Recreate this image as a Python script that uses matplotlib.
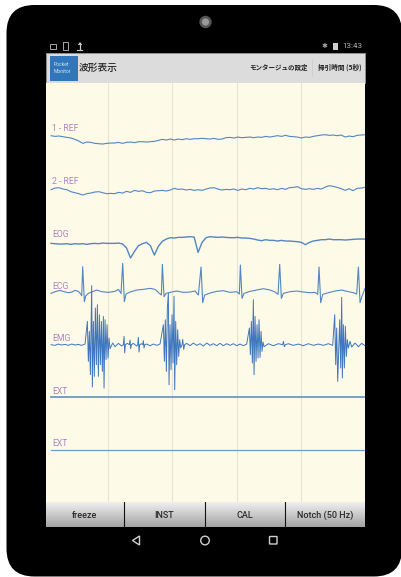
import numpy as np
import matplotlib
matplotlib.use("Agg")
import matplotlib.pyplot as plt
from matplotlib.patches import FancyBboxPatch, Rectangle, Circle, Polygon

plt.rcParams['font.family'] = ['Noto Sans CJK JP', 'DejaVu Sans']

W, H = 402, 577

channels = ["1 - REF", "2 - REF", "EOG", "ECG", "EMG", "EXT", "EXT"]
baselines = [1095, 939, 780, 630, 471, 315, 156]
label_levels = [1119, 961, 803, 646, 489, 332, 174]
grid_samples = [205, 397, 592, 784]
buttons = ["freeze", "INST", "CAL", "Notch (50 Hz)"]

ref1 = [3,1,2,0,-2,-4,-8,-13,-20,-16,-17,-20,-21,-22,-20,-19,-19,-17,-20,-17,-16,-18,-15,-15,-16,-15,-14,-11,-8,-10,
        -7,-10,-7,-9,-6,-8,-6,-6,-5,-6,-7,-5,-8,-7,-3,-2,-4,-1,-3,-2,-1,-3,-1,-2,1,-1,1,3,1,4,1,0,-1,-4,-1,-2,1,3,5,6,
        4,5,3,5,-1,2,0,4,5,6]
ref2 = [-3,2,3,-1,-3,-9,-12,-15,-19,-15,-13,-10,-9,-12,-15,-14,-15,-11,-13,-8,-11,-5,-8,-6,-11,-12,-7,-6,-5,-7,
        -4,1,-2,-1,-4,-2,-5,-3,-5,-1,2,3,-1,-4,-2,-3,-1,-5,-1,-3,1,-1,3,0,1,-2,0,-3,1,-2,3,4,6,0,-2,0,-2,1,-1,5,
        9,7,4,0,-5,0,-6,1,2,4]
eog = [-5,-6,-7,-7,-6,-8,-6,-7,-6,-8,-6,-5,-6,-4,-5,-5,-5,-4,-7,-19,-49,-29,-12,-6,-2,-12,-40,-14,1,8,
       12,11,13,13,14,15,14,-32,-2,12,15,14,13,14,13,12,12,13,11,11,10,8,5,3,6,4,4,2,4,2,2,1,0,-2,-9,-2,2,4,6,6,
       8,6,6,6,5,6,7,8,8,8]

ecg_t = [33,45,60,72,85,95,105,115,122,125,128,133,137,145,170,185,205,225,235,243,248,253,258,270,290,310,330,345,358,364,
         367,372,378,395,410,430,450,465,475,483,488,494,510,530,550,570,590,598,601,606,612,630,650,670,690,705,714,719,724,730,
         750,770,790,810,825,833,837,842,848,865,885,905,925,940,950,955,960,966,975]
ecg_v = [-5,0,4,0,-3,-1,4,1,-7,-12,75,-30,-13,-5,5,0,-2,1,7,-5,85,-30,-7,-1,5,7,10,7,-5,-10,
         82,-15,-5,-1,2,-2,-1,2,-10,74,-33,-10,-4,1,3,-2,0,-7,80,-20,-5,1,5,9,5,-1,-8,82,-20,-5,
         0,2,-1,-3,-2,-8,74,-33,-8,-3,2,5,0,-3,-7,74,-33,-13,10]

emg_t = [33,45,55,65,75,85,95,105,115,125,135,142,145,148,151,154,155,157,160,163,166,169,172,175,178,181,184,187,190,192,
         195,198,201,204,207,210,218,225,235,245,250,252,254,256,262,268,270,272,274,280,290,293,295,297,299,305,308,310,312,314,
         320,330,340,350,360,370,373,376,379,382,385,387,390,393,396,399,402,404,407,410,413,416,419,422,426,428,431,434,440,450,
         460,470,480,490,500,510,520,530,540,550,560,570,580,590,600,610,620,628,631,634,637,640,642,645,648,651,654,657,660,663,
         666,669,672,685,700,715,728,730,733,736,745,760,775,790,805,820,835,850,865,878,884,887,890,893,899,902,905,907,910,913,
         916,919,922,925,930,935,945,955,965,975]
emg_v = [0,-2,2,-1,1,-2,2,-1,1,-2,2,70,-50,40,-90,100,177,-127,70,-95,110,-60,120,-95,90,-60,70,-80,85,-130,
         75,-45,60,-40,20,-12,5,-6,4,-4,0,25,-25,0,4,0,14,-12,0,4,-4,0,22,-22,0,3,0,12,-10,0,
         2,-3,2,-2,2,60,-50,75,-80,110,155,-120,60,-75,90,-55,145,-135,70,-60,45,-35,15,-10,0,16,-14,0,4,-3,
         5,-2,3,-4,5,-2,3,-3,4,-3,3,-2,3,-3,2,-3,2,50,-30,70,-55,135,-90,85,-50,60,-40,75,-38,40,
         -20,8,-6,3,-3,3,0,10,-6,0,3,-2,2,-3,3,-2,2,-2,3,-2,90,-60,50,-110,75,-70,142,-100,60,-70,
         55,-35,15,-10,10,-7,5,-6,4,-3]

fig = plt.figure(figsize=(W / 100, H / 100), dpi=100, facecolor="white")

# device frame and UI chrome, in image pixels
bg = fig.add_axes([0, 0, 1, 1])
bg.set_xlim(0, W)
bg.set_ylim(H, 0)
bg.axis("off")
bg.add_patch(FancyBboxPatch((6.5 + 28, 5 + 28), W - 6.5 - 56, 571.5 - 56,
                            boxstyle="round,pad=28", fc="black", ec="none"))
bg.add_patch(Circle((205.5, 22), 6.2, fc="#555555", ec="none"))
bg.add_patch(Circle((205.5, 22), 3.6, fc="#9a9a9a", ec="none"))

# status bar
st = "#a8a8a8"
bg.add_patch(Rectangle((50.5, 43.5), 6, 5, fc="none", ec=st, lw=0.7))
bg.add_patch(Rectangle((63.5, 42), 5, 8, fc="none", ec=st, lw=0.7))
bg.plot([80, 80], [43, 49], color="#cccccc", lw=0.9)
bg.plot([77.5, 82.5], [50, 50], color="#cccccc", lw=0.8)
bg.add_patch(Polygon([[77.8, 45], [82.2, 45], [80, 42]], fc="#cccccc", ec="none"))
bg.text(325, 46, "✱", color=st, fontsize=5, ha="center", va="center", family="DejaVu Sans")
bg.add_patch(Rectangle((333, 43), 5, 7, fc="#cfcfcf", ec="none"))
bg.text(342.5, 46.3, "13:43", color="#b5b5b5", fontsize=5.8, ha="left", va="center", family="Roboto")

# action bar
bg.add_patch(Rectangle((45.7, 52.7), 319.5, 30, fc="#dcdcdc", ec="#9c9c9c", lw=0.5))
bg.add_patch(Rectangle((50.5, 56), 27.5, 25, fc="#2f76bb", ec="none"))
bg.text(53.5, 64.5, "Pocket", color="#d5e4f2", fontsize=3.6, va="center", family="Roboto")
bg.text(53.5, 71.5, "Monitor", color="#d5e4f2", fontsize=3.6, va="center", family="Roboto")
bg.text(78.5, 68, "波形表示", color="#222222", fontsize=7, va="center", weight="medium")
bg.text(308, 67.5, "モンタージュの設定", color="#222222", fontsize=4.7, va="center", ha="right", weight="bold")
bg.plot([312.5, 312.5], [59, 76], color="#c8c8c8", lw=0.5)
bg.text(362, 67.5, "掃引時間 (5秒)", color="#222222", fontsize=4.8, va="center", ha="right", weight="bold")

# button bar
edges = [45.7, 124, 205, 285.5, 365]
grad = np.linspace(0.95, 0.64, 64).reshape(-1, 1)
for i, label in enumerate(buttons):
    bg.imshow(grad, extent=[edges[i], edges[i + 1], 527.3, 502], cmap="gray", vmin=0, vmax=1,
              aspect="auto", zorder=2)
    bg.text((edges[i] + edges[i + 1]) / 2, 515.3, label, color="#2a2a2a", fontsize=6.5, ha="center",
            va="center", family="Roboto", weight="medium", zorder=3)
for e in edges[1:-1]:
    bg.plot([e, e], [502, 527.3], color="#111111", lw=0.8, zorder=3)
bg.set_xlim(0, W)
bg.set_ylim(H, 0)

# navigation bar
nav = "#cfcfcf"
bg.add_patch(Polygon([[132.5, 540.5], [139.5, 536], [139.5, 545]], fc="none", ec=nav, lw=1))
bg.add_patch(Circle((205, 540.5), 4.3, fc="none", ec=nav, lw=1))
bg.add_patch(FancyBboxPatch((270, 537), 6.5, 6.5, boxstyle="round,pad=0.5", fc="none", ec=nav, lw=1))

# waveform panel
ax = fig.add_axes([45.7 / W, 1 - 501.7 / H, (365.2 - 45.7) / W, (501.7 - 82.7) / H])
ax.set_facecolor("#fefae8")
ax.set_xlim(17, 975.5)
ax.set_ylim(0, 1257)
ax.set_xticks([])
ax.set_yticks([])
for s in ax.spines.values():
    s.set_visible(False)
for g in grid_samples:
    ax.axvline(g, color="#e6e5d4", lw=0.8, zorder=1)

trace = "#5286c4"
series = [
    (np.linspace(33, 975, len(ref1)), ref1),
    (np.linspace(33, 975, len(ref2)), ref2),
    (np.linspace(33, 975, len(eog)), eog),
    (ecg_t, ecg_v),
    (emg_t, emg_v),
    ([33, 975], [0, 0]),
    ([33, 975], [0, 0]),
]
widths = [0.8, 0.8, 1.0, 0.8, 0.7, 1.35, 0.9]
colors = [trace, trace, trace, trace, "#3f76bd", "#6f9dca", "#6f9dca"]
for name, base, lab, (t, v), lw, c in zip(channels, baselines, label_levels, series, widths, colors):
    ax.plot(t, np.asarray(v) + base, color=c, lw=lw, solid_joinstyle="round", zorder=3)
    ax.text(36, lab, name, color="#b083c4", fontsize=6.2, ha="left", va="center", family="Roboto", zorder=4)

fig.savefig("out.png", dpi=100)
